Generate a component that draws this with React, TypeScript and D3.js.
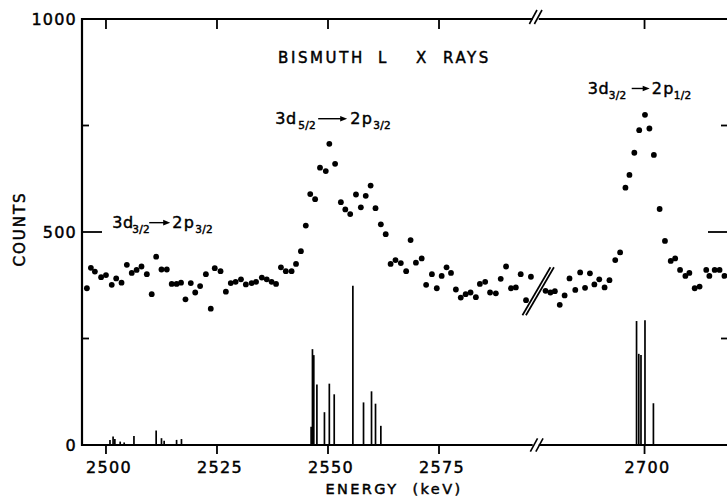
import React from "react";
import * as d3 from "d3";

// Measured spectrum, low-energy window (keV, counts per channel)
const lowEnergy = [
  2495.7, 2496.6, 2497.5, 2498.9, 2500.0, 2501.3, 2502.3, 2503.5, 2504.7, 2505.8,
  2506.9, 2508.0, 2509.2, 2510.3, 2511.3, 2512.5, 2513.7, 2514.8, 2515.9, 2516.9,
  2517.9, 2519.1, 2520.1, 2521.2, 2522.5, 2523.6, 2524.5, 2525.8, 2527.0, 2528.1,
  2529.2, 2530.4, 2531.5, 2532.8, 2533.8, 2535.1, 2536.2, 2537.3, 2538.3, 2539.4,
  2540.5, 2541.8, 2542.8, 2543.9, 2545.0, 2546.0, 2547.1, 2548.2, 2549.5, 2550.3,
  2551.6, 2552.9, 2553.9, 2555.0, 2556.3, 2557.4, 2558.5, 2559.6, 2560.7, 2561.9,
  2563.0, 2564.1, 2565.2, 2566.4, 2567.6, 2568.6, 2569.8, 2571.1, 2572.1, 2573.4,
  2574.5, 2575.6, 2576.7, 2577.7, 2578.8, 2579.9, 2581.0, 2582.1, 2583.3, 2584.2,
  2585.4, 2586.5, 2587.8, 2588.9, 2590.1, 2591.2, 2592.3, 2593.4, 2594.6, 2595.7,
];
const lowCounts = [
  368, 416, 407, 394, 399, 376, 391, 381, 423, 404,
  411, 419, 401, 354, 442, 412, 412, 378, 378, 381,
  342, 380, 358, 373, 401, 320, 415, 408, 360, 380,
  383, 389, 377, 380, 383, 393, 389, 383, 378, 417,
  408, 408, 425, 455, 515, 589, 577, 651, 643, 707,
  660, 570, 553, 542, 588, 558, 585, 609, 556, 518,
  495, 425, 434, 427, 408, 481, 428, 438, 376, 401,
  368, 397, 417, 404, 365, 346, 354, 358, 347, 378,
  383, 358, 356, 390, 419, 368, 370, 401, 340, 395,
];

// Measured spectrum, high-energy window
const highEnergy = [
  2677.7, 2678.8, 2679.8, 2680.9, 2682.0, 2683.1, 2684.4, 2685.5, 2686.6, 2687.7,
  2688.7, 2689.8, 2691.0, 2692.1, 2693.4, 2694.5, 2695.7, 2696.6, 2697.7, 2698.8,
  2700.1, 2701.1, 2702.1, 2703.4, 2704.6, 2705.9, 2706.9, 2708.0, 2709.2, 2710.1,
  2711.3, 2712.4, 2713.9, 2714.6, 2715.8, 2716.9, 2718.0,
];
const highCounts = [
  362, 358, 361, 329, 351, 391, 364, 405, 369, 403,
  377, 389, 370, 387, 434, 452, 604, 634, 686, 739,
  775, 743, 681, 554, 479, 432, 438, 411, 397, 404,
  368, 372, 411, 397, 411, 411, 397,
];

// Calculated transition energies and relative intensities
const lineEnergy = [
  2500.9, 2501.6, 2502.0, 2503.2, 2504.1, 2506.3, 2511.3, 2512.5, 2513.1, 2515.9, 2517.0,
  2546.2, 2546.5, 2546.8, 2547.5, 2549.2, 2550.3, 2551.4, 2555.6, 2558.0, 2559.8, 2560.7, 2561.9,
  2698.2, 2698.7, 2699.2, 2700.1, 2702.0,
];
const lineIntensity = [
  12, 20, 14, 8, 6, 21, 34, 16, 10, 12, 14,
  43, 225, 211, 142, 77, 144, 119, 374, 100, 126, 97, 45,
  291, 214, 211, 293, 98,
];

const xTicks = [2500, 2525, 2550, 2575, 2700];
const yTicks = [0, 500, 1000];
const yMinorTicks = [250, 750];

// Peak labels: lower-level / upper-level subscripts, anchored in data units
const labelFromSub = ["3/2", "5/2", "3/2"];
const labelToSub = ["3/2", "3/2", "1/2"];
const labelEnergy = [2501.4, 2538.1, 2687.2];
const labelCounts = [509, 753, 824];

// Horizontal layout of each label (pixel offsets from its anchor)
const labelLayout = [
  { sub1: 20, a0: 37, a1: 58, to: 60, sub2: 83 },
  { sub1: 23, a0: 43, a1: 72, to: 75, sub2: 98 },
  { sub1: 21, a0: 44, a1: 62, to: 64, sub2: 86 },
];

const W = 727;
const H = 498;
const FONT = "'DejaVu Sans', sans-serif";
const INK = { fill: "#000", stroke: "#000", strokeWidth: 0.45 };

// Energy axis is broken between the two windows
const LOW_END = 2597;
const HIGH_START = 2675.8;
const x = d3
  .scaleLinear()
  .domain([2494.6, LOW_END, HIGH_START, 2718.8])
  .range([82, 536.7, 537.1, 728]);
const y = d3.scaleLinear().domain([0, 1000]).range([445, 19]);

function Slashes({ cx, cy, dx, dy, gap, sw }: { cx: number; cy: number; dx: number; dy: number; gap: number; sw: number }) {
  return (
    <g stroke="#000" strokeWidth={sw}>
      {[-gap / 2, gap / 2].map((o, i) => (
        <line key={i} x1={cx + o - dx} y1={cy + dy} x2={cx + o + dx} y2={cy - dy} />
      ))}
    </g>
  );
}

export default function App() {
  const xb = x(LOW_END);
  const left = x.range()[0];
  const right = W;
  const top = y(1000);
  const bottom = y(0);

  const lowPts = lowEnergy.map((e, i) => [x(e), y(lowCounts[i])]);
  const highPts = highEnergy.map((e, i) => [x(e), y(highCounts[i])]);

  return (
    <svg
      width={W}
      height={H}
      style={{ position: "absolute", left: 0, top: 0, background: "#fff" }}
      fontFamily={FONT}
    >
      <rect width={W} height={H} fill="#fff" />

      {/* frame */}
      <line x1={left} y1={top - 1} x2={left} y2={bottom + 1} stroke="#000" strokeWidth={2.2} />
      <line x1={left} y1={top} x2={xb - 4} y2={top} stroke="#000" strokeWidth={2} />
      <line x1={xb + 2} y1={top} x2={right} y2={top} stroke="#000" strokeWidth={2} />
      <line x1={left} y1={bottom} x2={xb - 4} y2={bottom} stroke="#000" strokeWidth={2} />
      <line x1={xb + 2} y1={bottom} x2={right} y2={bottom} stroke="#000" strokeWidth={2} />
      <Slashes cx={xb - 1} cy={top - 2} dx={3.8} dy={7} gap={5} sw={1.6} />
      <Slashes cx={xb} cy={bottom} dx={3.6} dy={6.7} gap={5.5} sw={1.6} />

      {/* energy ticks, bottom (outside) and top (inside) */}
      {xTicks.map((t) => (
        <g key={t} stroke="#000" strokeWidth={1.8}>
          <line x1={x(t)} y1={bottom} x2={x(t)} y2={bottom + 9} />
          <line x1={x(t)} y1={top} x2={x(t)} y2={top + 10} />
        </g>
      ))}
      {xTicks.map((t) => (
        <text
          key={"l" + t}
          x={x(t) + 3}
          y={473}
          textAnchor="middle"
          fontSize={16}
          letterSpacing={1.3}
          {...INK}
        >
          {t}
        </text>
      ))}

      {/* count ticks, left and right */}
      {yTicks
        .filter((t) => t > 0 && t < 1000)
        .map((t) => (
          <g key={t} stroke="#000" strokeWidth={1.8}>
            <line x1={left} y1={y(t)} x2={left + 20} y2={y(t)} />
            <line x1={right - 19} y1={y(t)} x2={right} y2={y(t)} />
          </g>
        ))}
      {yMinorTicks.map((t) => (
        <g key={t} stroke="#000" strokeWidth={1.8}>
          <line x1={left} y1={y(t)} x2={left + 7} y2={y(t)} />
          <line x1={right - 6} y1={y(t)} x2={right} y2={y(t)} />
        </g>
      ))}
      {yTicks.map((t) => (
        <text
          key={"y" + t}
          x={77}
          y={y(t) + 6}
          textAnchor="end"
          fontSize={16}
          letterSpacing={1.2}
          {...INK}
        >
          {t}
        </text>
      ))}

      {/* axis titles */}
      <text x={394} y={494} textAnchor="middle" fontSize={14.5} letterSpacing={2.4} {...INK}>
        ENERGY{"\u00a0\u00a0"}(keV)
      </text>
      <text
        transform={`translate(25,229) rotate(-90)`}
        textAnchor="middle"
        fontSize={15}
        letterSpacing={2}
        {...INK}
      >
        COUNTS
      </text>

      {/* title */}
      <text y={63} fontSize={15} letterSpacing={2.6} {...INK}>
        <tspan x={278}>BISMUTH</tspan>
        <tspan x={378}>L</tspan>
        <tspan x={416}>X</tspan>
        <tspan x={443}>RAYS</tspan>
      </text>

      {/* calculated lines */}
      <g stroke="#000" strokeWidth={1.7}>
        {lineEnergy.map((e, i) => (
          <line key={i} x1={x(e)} y1={bottom} x2={x(e)} y2={y(lineIntensity[i])} />
        ))}
      </g>

      {/* measured points */}
      <g fill="#000">
        {lowPts.map(([px, py], i) => (
          <circle key={"a" + i} cx={px} cy={py} r={2.9} />
        ))}
        {highPts.map(([px, py], i) => (
          <circle key={"b" + i} cx={px} cy={py} r={2.9} />
        ))}
      </g>

      {/* break marker in the data */}
      <Slashes cx={xb + 1.5} cy={y(361)} dx={14} dy={24} gap={3.5} sw={1.7} />

      {/* transition labels */}
      {labelEnergy.map((e, i) => {
        const ax = x(e);
        const ay = y(labelCounts[i]);
        const L = labelLayout[i];
        const shaftY = ay - 5.5;
        return (
          <g key={"t" + i} {...INK}>
            <text x={ax} y={ay} fontSize={16} letterSpacing={0.6}>3d</text>
            <text x={ax + L.sub1} y={ay + 5} fontSize={10.5} letterSpacing={0.3}>
              {labelFromSub[i]}
            </text>
            <line x1={ax + L.a0} y1={shaftY} x2={ax + L.a1 - 5} y2={shaftY} stroke="#000" strokeWidth={1.4} />
            <path
              d={`M${ax + L.a1},${shaftY} L${ax + L.a1 - 7},${shaftY - 2.8} L${ax + L.a1 - 7},${shaftY + 2.8} Z`}
              strokeWidth={0}
            />
            <text x={ax + L.to} y={ay} fontSize={16} letterSpacing={1.4}>2p</text>
            <text x={ax + L.sub2} y={ay + 5} fontSize={10.5} letterSpacing={0.3}>
              {labelToSub[i]}
            </text>
          </g>
        );
      })}
    </svg>
  );
}
